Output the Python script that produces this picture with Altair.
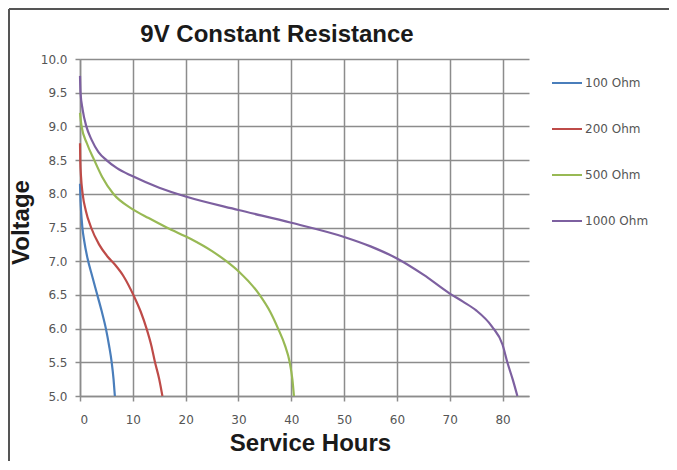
import altair as alt
import pandas as pd

# ---- data ----
chart_title = "9V Constant Resistance"
series_names = ["100 Ohm", "200 Ohm", "500 Ohm", "1000 Ohm"]
series_colors = ["#4A7EBB", "#BE4B48", "#98B954", "#7D60A0"]

hours_100 = [0, 0.05, 0.2, 0.45, 0.8, 1.4, 2.3, 3.2, 4.1, 4.9, 5.5, 6.0, 6.35, 6.6]
volts_100 = [8.15, 8.0, 7.75, 7.5, 7.3, 7.05, 6.78, 6.52, 6.26, 6.0, 5.75, 5.5, 5.25, 5.0]

hours_200 = [0, 0.05, 0.2, 0.5, 1.1, 2.1, 3.6, 5.2, 6.6, 8.3, 10.1, 11.5, 12.6, 13.5, 14.2, 15.0, 15.6]
volts_200 = [8.75, 8.5, 8.25, 8.0, 7.75, 7.5, 7.25, 7.07, 6.95, 6.77, 6.5, 6.25, 6.0, 5.75, 5.5, 5.25, 5.0]

hours_500 = [0, 0.3, 1.3, 2.7, 4.2, 6.3, 10.0, 13.0, 16.4, 21.0, 25.0, 27.7, 30.0, 34.0, 36.0, 37.5,
             38.8, 39.7, 40.2, 40.5]
volts_500 = [9.2, 9.0, 8.75, 8.5, 8.25, 8.0, 7.77, 7.64, 7.5, 7.33, 7.15, 7.0, 6.85, 6.5, 6.25, 6.0,
             5.75, 5.5, 5.25, 5.0]

hours_1000 = [0, 0.1, 0.5, 1.2, 2.2, 3.5, 5.0, 7.0, 10.0, 15.0, 20.0, 30.0, 40.0, 50.0, 55.0, 60.0,
              65.0, 70.0, 72.5, 75.0, 78.0, 80.0, 80.9, 81.9, 82.8]
volts_1000 = [9.75, 9.5, 9.25, 9.0, 8.8, 8.62, 8.5, 8.38, 8.26, 8.09, 7.96, 7.76, 7.57, 7.36, 7.22,
              7.04, 6.8, 6.52, 6.4, 6.27, 6.03, 5.76, 5.5, 5.25, 5.0]

x_ticks = [0, 10, 20, 30, 40, 50, 60, 70, 80]
y_ticks = [5.0, 5.5, 6.0, 6.5, 7.0, 7.5, 8.0, 8.5, 9.0, 9.5, 10.0]

rows = []
for name, hs, vs in zip(series_names,
                        [hours_100, hours_200, hours_500, hours_1000],
                        [volts_100, volts_200, volts_500, volts_1000]):
    for i, (h, v) in enumerate(zip(hs, vs)):
        rows.append({"series": name, "hours": h, "voltage": v, "order": i})
df = pd.DataFrame(rows)

GRID = "#8c8c8c"
LABEL = "#555555"
TITLE_C = "#1a1a1a"

lines = alt.Chart(df).mark_line(strokeWidth=2.2, interpolate="monotone").encode(
    x=alt.X("hours:Q",
            scale=alt.Scale(domain=[0, 85], nice=False, zero=False),
            axis=alt.Axis(values=x_ticks, title="Service Hours",
                          titleX=230, titleY=54, titleBaseline="alphabetic",
                          titleFont="Liberation Sans", titleFontSize=24,
                          titleFontWeight="bold", titleColor=TITLE_C,
                          labelFont="DejaVu Sans", labelFontSize=12, labelColor=LABEL,
                          labelPadding=13, tickSize=5, tickColor=GRID, tickWidth=1.5,
                          domainColor=GRID, domainWidth=1.5,
                          gridColor=GRID, gridWidth=1.5)),
    y=alt.Y("voltage:Q",
            scale=alt.Scale(domain=[5, 10], nice=False, zero=False),
            axis=alt.Axis(values=y_ticks, format=".1f", title="Voltage",
                          titleX=-52, titleY=163, titleBaseline="alphabetic",
                          titleAngle=270, titleAlign="center",
                          titleFont="Liberation Sans", titleFontSize=24,
                          titleFontWeight="bold", titleColor=TITLE_C,
                          labelFont="DejaVu Sans", labelFontSize=12, labelColor=LABEL,
                          labelPadding=8, tickSize=5, tickColor=GRID, tickWidth=1.5,
                          domainColor=GRID, domainWidth=1.5,
                          gridColor=GRID, gridWidth=1.5)),
    color=alt.Color("series:N",
                    scale=alt.Scale(domain=series_names, range=series_colors),
                    legend=alt.Legend(title=None, orient="none", legendX=471, legendY=8,
                                      symbolType="stroke", symbolSize=900,
                                      symbolStrokeWidth=2, rowPadding=24,
                                      labelOffset=2, padding=0,
                                      labelFont="DejaVu Sans", labelFontSize=12,
                                      labelColor=LABEL)),
    order="order:Q",
)

one = alt.Data(values=[{"a": 1}])

title_mark = alt.Chart(one).mark_text(
    text=chart_title, font="Liberation Sans", fontSize=24, fontWeight="bold",
    color=TITLE_C, align="center", baseline="alphabetic"
).encode(x=alt.value(197), y=alt.value(-17))

frame_top = alt.Chart(one).mark_rule(stroke="#555555", strokeWidth=2).encode(
    x=alt.value(-71), x2=alt.value(589), y=alt.value(-50)
)
frame_left = alt.Chart(one).mark_rule(stroke="#555555", strokeWidth=2).encode(
    x=alt.value(-71), y=alt.value(-50), y2=alt.value(402)
)

chart = alt.layer(lines, title_mark, frame_top, frame_left).properties(
    width=449, height=337,
    autosize=alt.AutoSizeParams(type="none"),
    padding={"left": 72, "top": 51, "right": 140, "bottom": 66},
).configure_view(stroke=None)

chart.save("out.html", embed_options={"renderer": "svg", "actions": False})
